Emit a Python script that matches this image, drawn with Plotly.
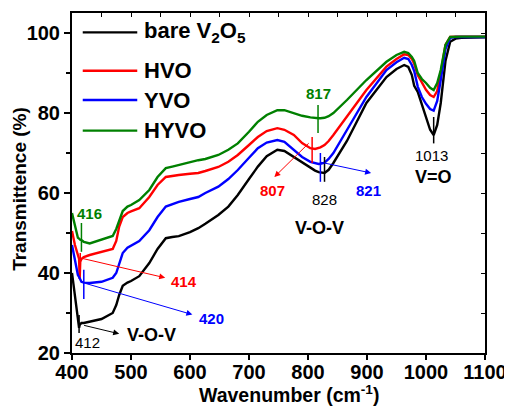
import plotly.graph_objects as go

# ---------------- data ----------------
wavenumber = [400, 405, 410, 412, 413, 414, 416, 420, 430, 450, 469, 475, 480, 486, 494, 500,
              514, 531, 545, 559, 570, 581, 600, 614, 626, 648, 665, 681, 700, 715, 730, 748,
              760, 776, 790, 804, 812, 818, 821, 828, 835, 843, 866, 899, 933, 950, 963, 970,
              976, 980, 986, 993, 1000, 1007, 1013, 1019, 1025, 1033, 1041, 1050, 1060, 1080, 1100]

bare_v2o5 = [40, 34, 28.5, 26.3, 27.0, 27.3, 27.5, 27.5, 27.8, 28.5, 30, 32, 34.5, 36.8, 37.6, 38,
             39.2, 42.5, 46, 48.7, 49, 49.2, 50.2, 51.2, 52.3, 54.5, 56.6, 59.5, 63.5, 66.6, 69.2, 70.8,
             70.5, 69, 67.5, 66.3, 65.6, 65.2, 65.1, 65, 65.8, 67.5, 73, 82.5, 89, 91, 92, 91.5,
             89.5, 86.8, 85.3, 82, 78.5, 75.8, 74.5, 77, 82.5, 93, 97.8, 98.6, 98.8, 98.9, 98.9]

hvo = [50.5, 47, 44.5, 43.5, 38.5, 42.8, 43.5, 44, 44.5, 45.2, 46, 48, 51.6, 54, 55, 55.4,
       56.2, 59, 62, 64, 64.3, 64.5, 64.8, 65, 65.5, 66.5, 67.8, 69.5, 72, 74, 75.5, 76.2,
       75.8, 74.5, 72.5, 71.2, 71, 71.2, 71.4, 72, 73, 74.5, 79, 85.75, 91.6, 93.5, 94.7, 94.5,
       93.5, 92.3, 89.5, 87.5, 85.8, 84.5, 84, 85.5, 90, 97, 99, 99.1, 99.1, 99.1, 99.1]

yvo = [47, 43, 39.5, 39, 38.6, 38.2, 37.8, 37.6, 37.5, 37.8, 38.8, 40, 42.5, 45, 46.3, 46.8,
       48, 50.7, 54, 56.6, 57.2, 57.8, 58.5, 59, 60, 61.6, 63.5, 65.75, 68.8, 71.2, 72.6, 73.25,
       72.8, 70.75, 69, 67.8, 67.4, 67.25, 67.3, 67.6, 68.5, 70, 75.75, 84, 90.75, 92.7, 93.8, 93.5,
       92, 90.5, 86.6, 84, 82.3, 81, 80.6, 83, 88.25, 96, 98.8, 99, 99, 99, 99]

hyvo = [55, 51.5, 48.8, 48.6, 48.4, 48.3, 48.2, 47.8, 47.4, 48.3, 49.25, 51, 53.25, 55.5, 56.6, 57,
        58.25, 60.75, 64, 66.2, 66.6, 67, 67.8, 68.2, 68.5, 69.5, 70.8, 72.4, 75.3, 77.8, 79.5, 80.7,
        80.7, 80, 79.3, 78.9, 78.7, 78.7, 78.7, 78.8, 79.2, 80, 83.25, 88.25, 92.8, 94.5, 95.3, 95,
        94, 93, 90, 88.5, 87.5, 86.3, 85.75, 87.5, 90.75, 97, 99, 99.1, 99.1, 99.1, 99.1]

series_names = ["bare V<sub>2</sub>O<sub>5</sub>", "HVO", "YVO", "HYVO"]
series_values = [bare_v2o5, hvo, yvo, hyvo]
series_colors = ["#000000", "#ff0000", "#0000ff", "#008000"]

x_ticks = [400, 500, 600, 700, 800, 900, 1000, 1100]
y_ticks = [20, 40, 60, 80, 100]

# peak markers: (wavenumber, y_low, y_high, color)
peak_marks = [
    (412, 25.0, 29.5, "#000000"),
    (414, 41.5, 45.0, "#ff0000"),
    (420, 33.5, 40.8, "#0000ff"),
    (416, 45.3, 52.5, "#008000"),
    (817, 75.0, 82.0, "#008000"),
    (807, 67.5, 74.0, "#ff0000"),
    (821, 62.8, 70.0, "#0000ff"),
    (828, 62.8, 69.0, "#000000"),
    (1013, 72.4, 79.0, "#000000"),
]

FONT = "Arial, 'Liberation Sans', sans-serif"

fig = go.Figure()
for name, vals, col in zip(series_names, series_values, series_colors):
    fig.add_trace(go.Scatter(x=wavenumber, y=vals, mode="lines", name=name,
                             line=dict(color=col, width=2.4), showlegend=False))

# invisible trace for the mirror (top/right) axes
fig.add_trace(go.Scatter(x=[400, 1100], y=[20, 105], xaxis="x2", yaxis="y2",
                         mode="markers", marker=dict(opacity=0), showlegend=False,
                         hoverinfo="skip"))

shapes = []
for xw, y0, y1, col in peak_marks:
    shapes.append(dict(type="line", xref="x", yref="y", x0=xw, x1=xw, y0=y0, y1=y1,
                       line=dict(color=col, width=1.5)))

# legend (manual)
leg_y = [0.943, 0.830, 0.744, 0.654]
annotations = []
for name, col, yy in zip(series_names, series_colors, leg_y):
    shapes.append(dict(type="line", xref="paper", yref="paper", x0=0.026, x1=0.158,
                       y0=yy, y1=yy, line=dict(color=col, width=2.4)))
    annotations.append(dict(xref="paper", yref="paper", x=0.170, y=yy, text=name,
                            showarrow=False, xanchor="left", yanchor="middle",
                            font=dict(family=FONT, size=22, color="#000000", weight="bold")))

def label(x, y, text, col, size=15, bold=True):
    annotations.append(dict(xref="x", yref="y", x=x, y=y, text=text, showarrow=False,
                            font=dict(family=FONT, size=size, color=col,
                                      weight="bold" if bold else "normal")))

def arrow(x0, y0, x1, y1, col):
    annotations.append(dict(xref="x", yref="y", axref="x", ayref="y", x=x1, y=y1, ax=x0, ay=y0,
                            text="", showarrow=True, arrowhead=2, arrowsize=1.2,
                            arrowwidth=1, arrowcolor=col))

label(430, 55, "416", "#008000")
arrow(416, 43.7, 558, 38.8, "#ff0000")
label(589, 38, "414", "#ff0000")
arrow(420.6, 37.5, 604, 29.6, "#0000ff")
label(636, 28.7, "420", "#0000ff")
arrow(418, 27, 480, 24.8, "#000000")
label(534, 24.5, "V-O-V", "#000000", size=18)
label(427, 22.6, "412", "#000000", size=15, bold=False)

label(818, 85, "817", "#008000")
arrow(803.7, 72.8, 743, 64, "#ff0000")
label(740, 60.6, "807", "#ff0000")
arrow(818, 67.8, 907, 65, "#0000ff")
label(902, 60.6, "821", "#0000ff")
label(827.6, 58.3, "828", "#000000", size=15, bold=False)
label(820, 51.3, "V-O-V", "#000000", size=18)
label(1010, 69.4, "1013", "#000000", size=15, bold=False)
label(1013, 63.9, "V=O", "#000000", size=18)

# axis titles
annotations.append(dict(xref="paper", yref="paper", x=0.526, y=-0.12,
                        text="Wavenumber (cm<sup>-1</sup>)", showarrow=False,
                        xanchor="center", yanchor="middle",
                        font=dict(family=FONT, size=19.5, color="#000000", weight="bold")))
annotations.append(dict(xref="paper", yref="paper", x=-0.129, y=0.482,
                        text="Transmittence (%)", showarrow=False, textangle=-90,
                        xanchor="center", yanchor="middle",
                        font=dict(family=FONT, size=19, color="#000000", weight="bold")))

tickfont = dict(family=FONT, size=20, color="#000000", weight="bold")

fig.update_layout(
    width=504, height=399,
    margin=dict(l=64, r=22, t=5, b=54),
    paper_bgcolor="white", plot_bgcolor="white",
    shapes=shapes, annotations=annotations,
    xaxis=dict(range=[400, 1100], tickvals=x_ticks, ticks="outside", ticklen=5, tickwidth=2,
               showline=True, linewidth=2, linecolor="black", showgrid=False, zeroline=False,
               tickfont=tickfont, tickcolor="black", ticklabelstandoff=-5),
    yaxis=dict(range=[20, 105], tickvals=y_ticks, ticks="outside", ticklen=6, tickwidth=2,
               showline=True, linewidth=2, linecolor="black", showgrid=False, zeroline=False,
               tickfont=tickfont, tickcolor="black",
               minor=dict(dtick=10, tick0=0, ticks="outside", ticklen=4, tickwidth=1.5,
                          tickcolor="black", showgrid=False)),
    xaxis2=dict(range=[400, 1100], overlaying="x", side="top", showline=True, linewidth=2,
                linecolor="black", ticks="inside", dtick=50, tick0=400, ticklen=4, tickwidth=1,
                tickcolor="black", showticklabels=False, showgrid=False, zeroline=False),
    yaxis2=dict(range=[20, 105], overlaying="y", side="right", showline=True, linewidth=2,
                linecolor="black", ticks="inside", dtick=10, tick0=0, ticklen=4, tickwidth=1,
                tickcolor="black", showticklabels=False, showgrid=False, zeroline=False),
)

fig.write_html("out.html")
